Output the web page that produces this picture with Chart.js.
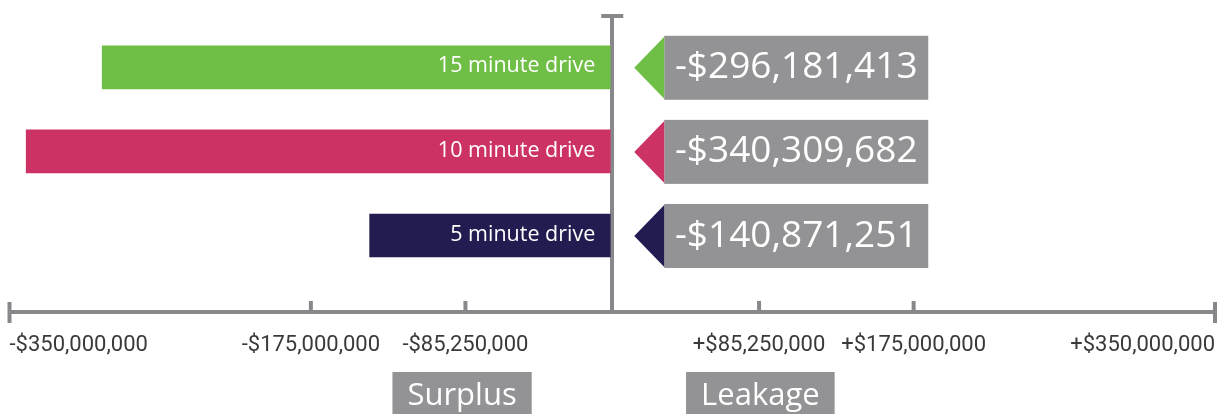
<!DOCTYPE html>
<html>
<head>
<meta charset="utf-8">
<title>Drive-time retail gap</title>
<script src="https://cdn.jsdelivr.net/npm/chart.js@4.4.1/dist/chart.umd.min.js"></script>
<style>
  html, body { margin: 0; padding: 0; background: #ffffff; }
  #wrap { width: 1218px; height: 414px; position: relative; }
</style>
</head>
<body>
<div id="wrap"><canvas id="gap"></canvas></div>
<script>
// Drive-time rings and their retail gap (negative = surplus)
const categories = ['15 minute drive', '10 minute drive', '5 minute drive'];
const gapValues = [-296181413, -340309682, -140871251];
const barColors = ['#6fbe45', '#cd3264', '#221c51'];

// Axis ticks
const tickValues = [-350000000, -175000000, -85250000, 0, 85250000, 175000000, 350000000];
const tickLabels = ['-$350,000,000', '-$175,000,000', '-$85,250,000', '', '+$85,250,000', '+$175,000,000', '+$350,000,000'];

// Captions under the two halves of the axis
const sideLabels = ['Surplus', 'Leakage'];

const AXIS_GREY = '#88888c';
const BOX_GREY = '#939396';
const BODY_FONT = '"Open Sans", "DejaVu Sans", sans-serif';
const TICK_FONT = 'Roboto, "Liberation Sans", sans-serif';
// row axis runs a little past the first and last bar
const ROW_MIN = -0.61;
const ROW_MAX = 2.91;

function formatMoney(v) {
  const sign = v < 0 ? '-' : '+';
  return sign + '$' + Math.abs(v).toLocaleString('en-US');
}

// Tick marks, axis caps, bar captions, value tags and the side captions
const decorations = {
  id: 'decorations',
  afterDatasetsDraw(chart) {
    const ctx = chart.ctx;
    const xs = chart.scales.x;
    const x0 = xs.getPixelForValue(0);
    const meta = chart.getDatasetMeta(0);

    // captions inside the bars
    ctx.save();
    ctx.fillStyle = '#ffffff';
    ctx.font = '21.5px ' + BODY_FONT;
    ctx.textAlign = 'right';
    ctx.textBaseline = 'middle';
    meta.data.forEach((bar, i) => {
      ctx.fillText(categories[i], x0 - 17, bar.y - 1);
    });
    ctx.restore();
  },
  afterDraw(chart) {
    const ctx = chart.ctx;
    const area = chart.chartArea;
    const xs = chart.scales.x;
    const x0 = xs.getPixelForValue(0);
    const axisY = area.bottom;
    const meta = chart.getDatasetMeta(0);

    ctx.save();
    ctx.strokeStyle = AXIS_GREY;
    ctx.lineWidth = 4;
    ctx.lineCap = 'butt';

    // cap on top of the zero line
    ctx.beginPath();
    ctx.moveTo(x0 - 11, area.top);
    ctx.lineTo(x0 + 11, area.top);
    ctx.stroke();

    // tick marks on the value axis
    tickValues.forEach((v, i) => {
      if (v === 0) return;
      const px = xs.getPixelForValue(v);
      const isEnd = i === 0 || i === tickValues.length - 1;
      ctx.beginPath();
      ctx.moveTo(px, axisY - (isEnd ? 10 : 11));
      ctx.lineTo(px, axisY + (isEnd ? 11 : 0));
      ctx.stroke();
    });

    // value tags with a pointer in the bar colour
    meta.data.forEach((bar, i) => {
      const cy = bar.y + 0.5;
      const left = x0 + 52;
      const width = 264;
      const h = 64;
      ctx.fillStyle = BOX_GREY;
      ctx.fillRect(left, cy - h / 2, width, h);
      ctx.fillStyle = barColors[i];
      ctx.beginPath();
      ctx.moveTo(left, cy - 31);
      ctx.lineTo(left, cy + 31);
      ctx.lineTo(x0 + 22, cy);
      ctx.closePath();
      ctx.fill();
      ctx.fillStyle = '#ffffff';
      ctx.font = '37px ' + BODY_FONT;
      ctx.textAlign = 'center';
      ctx.textBaseline = 'middle';
      ctx.fillText(formatMoney(gapValues[i]), left + width / 2, cy);
    });

    // Surplus / Leakage captions under the inner ticks
    const anchors = [tickValues[2], tickValues[4]];
    ctx.font = '31px ' + BODY_FONT;
    ctx.textAlign = 'left';
    ctx.textBaseline = 'alphabetic';
    sideLabels.forEach((label, i) => {
      const px = xs.getPixelForValue(anchors[i]);
      const w = ctx.measureText(label).width + 30;
      const left = px - 73;
      ctx.fillStyle = BOX_GREY;
      ctx.fillRect(left, 372, w, chart.height - 372 + 2);
      ctx.fillStyle = '#ffffff';
      ctx.fillText(label, left + 15, 405);
    });
    ctx.restore();
  }
};

new Chart(document.getElementById('gap'), {
  type: 'bar',
  data: {
    datasets: [{
      data: gapValues.map((v, i) => ({ x: v, y: i })),
      backgroundColor: barColors,
      borderWidth: 0,
      barThickness: 43
    }]
  },
  options: {
    indexAxis: 'y',
    responsive: true,
    maintainAspectRatio: false,
    animation: false,
    layout: { padding: { top: 16, left: 9.5, right: 3, bottom: 50 } },
    plugins: { legend: { display: false }, tooltip: { enabled: false } },
    scales: {
      x: {
        type: 'linear',
        min: -350000000,
        max: 350000000,
        z: 1,
        afterBuildTicks: (scale) => { scale.ticks = tickValues.map(v => ({ value: v })); },
        afterFit: (scale) => { scale.height = 52; scale.paddingLeft = 0; scale.paddingRight = 0; },
        // only the zero line is drawn across the plot
        grid: {
          display: true,
          drawTicks: false,
          lineWidth: 4,
          color: (c) => (c.tick && c.tick.value === 0 ? AXIS_GREY : 'rgba(0,0,0,0)')
        },
        border: { display: true, color: AXIS_GREY, width: 4 },
        ticks: {
          autoSkip: false,
          maxRotation: 0,
          align: 'inner',
          padding: 20,
          color: '#3a3a3a',
          font: { family: TICK_FONT, size: 22 },
          callback: (value, index) => tickLabels[index]
        }
      },
      y: {
        type: 'linear',
        display: false,
        offset: false,
        reverse: true,
        min: ROW_MIN,
        max: ROW_MAX
      }
    }
  },
  plugins: [decorations]
});
</script>
</body>
</html>
